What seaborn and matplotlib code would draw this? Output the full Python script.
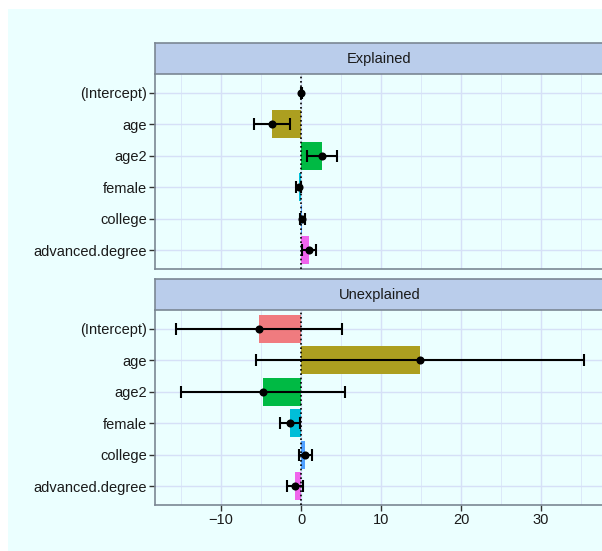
import numpy as np
import pandas as pd
import seaborn as sns
import matplotlib
matplotlib.use("Agg")
import matplotlib.pyplot as plt
from matplotlib.patches import Rectangle
from matplotlib.ticker import MultipleLocator

# Oaxaca-style decomposition: coefficient contributions with 95% intervals
categories = ["(Intercept)", "age", "age2", "female", "college", "advanced.degree"]
explained = [0.04, -3.65, 2.62, -0.27, 0.18, 0.95]
explained_err = [0.08, 2.28, 1.92, 0.30, 0.30, 0.88]
unexplained = [-5.27, 14.87, -4.80, -1.38, 0.55, -0.72]
unexplained_err = [10.40, 20.50, 10.25, 1.30, 0.80, 0.97]
panel_titles = ["Explained", "Unexplained"]
x_ticks = [-10, 0, 10, 20, 30]
x_tick_labels = ["\u221210", "0", "10", "20", "30"]

palette = ["#F07B7F", "#AC9F20", "#00BA44", "#00BED8", "#4FA0FF", "#EF65EC"]

BG = "#EBFFFF"
GRID = "#D6E0F7"
STRIP = "#BACDEB"
EDGE = "#7B8794"

sns.set_theme(style="white")
plt.rcParams["font.family"] = ["Liberation Sans", "DejaVu Sans"]

fig = plt.figure(figsize=(6.02, 5.51), dpi=100, facecolor="white")
fig.patches.append(Rectangle((8 / 602, 0), 1, 1 - 9 / 551, transform=fig.transFigure,
                             facecolor=BG, edgecolor="none", zorder=-10))

W, H = 602, 551
left, right = 155 / W, 604 / W
panels = [(74, 269, 43), (310, 505, 279)]

xmin, xmax = -18.25, 37.87

for i, (title, vals, errs) in enumerate(zip(panel_titles,
                                             [explained, unexplained],
                                             [explained_err, unexplained_err])):
    top, bottom, strip_top = panels[i]
    ax = fig.add_axes([left, 1 - bottom / H, right - left, (bottom - top) / H])
    ax.set_facecolor(BG)
    df = pd.DataFrame({"term": categories, "value": vals, "err": errs})

    sns.barplot(data=df, x="value", y="term", hue="term", order=categories,
                hue_order=categories, palette=palette, width=0.9, dodge=False,
                legend=False, saturation=1, linewidth=0, edgecolor="none",
                errorbar=None, ax=ax, zorder=2)
    ax.axvline(0, color="black", linestyle=(0, (1, 1.6)), linewidth=1.2, zorder=3)
    ax.errorbar(df["value"], np.arange(len(categories)), xerr=df["err"],
                fmt="none", ecolor="black", elinewidth=1.5, capsize=4,
                capthick=1.5, zorder=4)
    sns.scatterplot(data=df, x="value", y="term", color="black", s=34,
                    edgecolor="black", linewidth=0, ax=ax, zorder=5)

    ax.set_xlim(xmin, xmax)
    ax.set_ylim(len(categories) - 0.4, -0.6)
    ax.xaxis.set_major_locator(MultipleLocator(10))
    ax.xaxis.set_minor_locator(MultipleLocator(5))
    ax.grid(True, which="major", axis="both", color=GRID, linewidth=1.0, zorder=0)
    ax.grid(True, which="minor", axis="x", color=GRID, linewidth=0.5, zorder=0)
    ax.set_axisbelow(True)
    ax.set_xlabel("")
    ax.set_ylabel("")

    for side in ["top", "right"]:
        ax.spines[side].set_visible(False)
    for side in ["left", "bottom"]:
        ax.spines[side].set_color(EDGE)
        ax.spines[side].set_linewidth(1.2)

    ax.tick_params(axis="y", which="major", left=True, length=4, width=1,
                   color="#333333", labelsize=10.5, labelcolor="#1a1a1a", pad=2)
    if i == 1:
        ax.set_xticks(x_ticks)
        ax.set_xticklabels(x_tick_labels)
        ax.tick_params(axis="x", which="major", bottom=True, length=4, width=1,
                       color="#333333", labelsize=10.5, labelcolor="#1a1a1a", pad=2)
        ax.tick_params(axis="x", which="minor", bottom=False)
    else:
        ax.tick_params(axis="x", which="both", bottom=False, labelbottom=False)

    # facet strip
    sax = fig.add_axes([left, 1 - top / H, right - left, (top - strip_top) / H])
    sax.set_facecolor(STRIP)
    sax.set_xticks([])
    sax.set_yticks([])
    for side in ["top", "left", "bottom"]:
        sax.spines[side].set_color(EDGE)
        sax.spines[side].set_linewidth(1.2)
    sax.spines["right"].set_visible(False)
    sax.text(0.5, 0.5, title, transform=sax.transAxes, ha="center", va="center",
             fontsize=10.5, color="#1a1a1a")

fig.savefig("out.png", dpi=100, facecolor=fig.get_facecolor())
